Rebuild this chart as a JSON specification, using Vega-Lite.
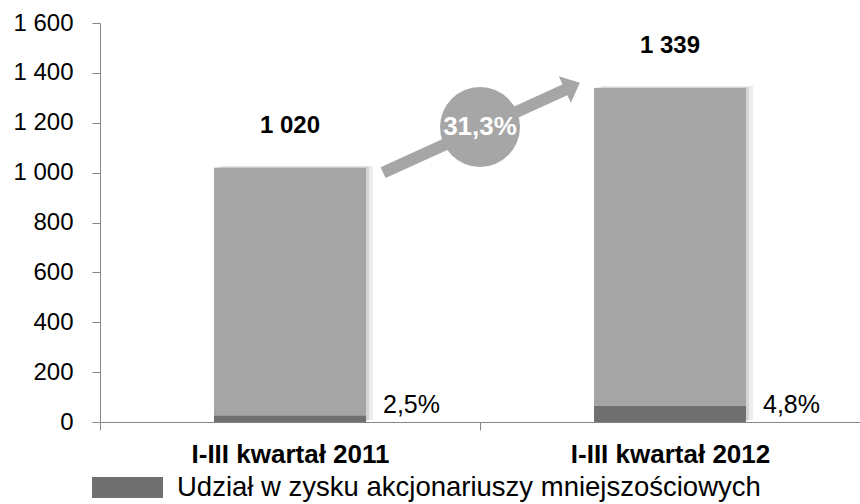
{
  "$schema": "https://vega.github.io/schema/vega-lite/v6.json",
  "width": 760,
  "height": 399,
  "autosize": {"type": "none"},
  "padding": {"left": 100, "top": 23, "right": 0, "bottom": 82},
  "background": "white",
  "config": {
    "locale": {"number": {"decimal": ",", "thousands": " ", "grouping": [3], "currency": ["", ""]}},
    "font": "Liberation Sans",
    "view": {"stroke": null},
    "axis": {"grid": false, "domainColor": "#868686", "tickColor": "#868686", "labelColor": "black", "labelFont": "Liberation Sans"},
    "axisY": {"tickSize": 8, "labelFontSize": 24, "labelPadding": 19, "values": [0, 200, 400, 600, 800, 1000, 1200, 1400, 1600], "format": ",d"},
    "axisX": {"tickSize": 8, "labelFontSize": 26, "labelFontWeight": "bold", "labelPadding": 11, "labelAngle": 0, "tickBand": "extent", "labelLimit": 400}
  },
  "datasets": {
    "bars": [
      {"okres": "I-III kwartał 2011", "razem": 1020, "mniejszosciowe": 25.5, "udzial": 0.025, "seria": "Udział w zysku akcjonariuszy mniejszościowych"},
      {"okres": "I-III kwartał 2012", "razem": 1339, "mniejszosciowe": 64.3, "udzial": 0.048, "seria": "Udział w zysku akcjonariuszy mniejszościowych"}
    ],
    "arrow": [{"x": 0.745, "y": 1000, "x2": 1.232, "y2": 1338}],
    "head": [{"x": 1.243, "y": 1347}],
    "growth": [{"x": 1.0, "y": 1183, "wzrost": 0.313}]
  },
  "layer": [
    {
      "data": {"name": "bars"},
      "encoding": {
        "x": {"field": "okres", "type": "nominal", "title": null, "scale": {"paddingInner": 0, "paddingOuter": 0}}
      },
      "layer": [
        {
          "mark": {"type": "bar", "color": "black", "opacity": 0.07, "width": {"band": 0.4}, "xOffset": 7, "yOffset": -2},
          "encoding": {"y": {"field": "razem", "type": "quantitative", "title": null, "scale": {"domain": [0, 1600]}}}
        },
        {
          "mark": {"type": "bar", "color": "black", "opacity": 0.1, "width": {"band": 0.4}, "xOffset": 3, "yOffset": -1},
          "encoding": {"y": {"field": "razem", "type": "quantitative", "title": null}}
        },
        {
          "mark": {"type": "bar", "color": "#a5a5a5", "width": {"band": 0.4}},
          "encoding": {"y": {"field": "razem", "type": "quantitative", "title": null}}
        },
        {
          "mark": {"type": "bar", "width": {"band": 0.4}},
          "encoding": {
            "y": {"field": "mniejszosciowe", "type": "quantitative", "title": null},
            "color": {
              "field": "seria", "type": "nominal",
              "scale": {"range": ["#707070"]},
              "legend": {"orient": "none", "legendX": -8, "legendY": 429, "title": null, "padding": 0,
                "symbolType": "M-1,-0.296H1V0.296H-1Z", "symbolSize": 5041, "symbolStrokeWidth": 0,
                "labelFontSize": 27.5, "labelColor": "black", "labelOffset": 14, "labelLimit": 800}
            }
          }
        },
        {
          "mark": {"type": "text", "fontWeight": "bold", "fontSize": 24, "dy": -42, "baseline": "middle", "color": "black"},
          "encoding": {
            "y": {"field": "razem", "type": "quantitative", "title": null},
            "text": {"field": "razem", "type": "quantitative", "format": ",d"}
          }
        },
        {
          "mark": {"type": "text", "fontSize": 25, "align": "left", "dx": 93, "dy": -17, "baseline": "middle", "color": "black"},
          "encoding": {
            "y": {"datum": 0, "type": "quantitative", "title": null},
            "text": {"field": "udzial", "type": "quantitative", "format": ".1%"}
          }
        }
      ]
    },
    {
      "layer": [
        {
          "data": {"name": "arrow"},
          "mark": {"type": "rule", "color": "#a6a6a6", "strokeWidth": 12},
          "encoding": {
            "x": {"field": "x", "type": "quantitative", "scale": {"domain": [0, 2]}, "axis": null},
            "y": {"field": "y", "type": "quantitative", "title": null},
            "x2": {"field": "x2"},
            "y2": {"field": "y2"}
          }
        },
        {
          "data": {"name": "head"},
          "mark": {"type": "point", "shape": "M0.57,0L-0.57,-1L-0.57,1Z", "size": 841, "angle": -24.5, "filled": true, "color": "#a6a6a6", "opacity": 1},
          "encoding": {
            "x": {"field": "x", "type": "quantitative", "scale": {"domain": [0, 2]}, "axis": null},
            "y": {"field": "y", "type": "quantitative", "title": null}
          }
        },
        {
          "data": {"name": "growth"},
          "mark": {"type": "point", "shape": "circle", "size": 6400, "filled": true, "color": "#a6a6a6", "opacity": 1},
          "encoding": {
            "x": {"field": "x", "type": "quantitative", "scale": {"domain": [0, 2]}, "axis": null},
            "y": {"field": "y", "type": "quantitative", "title": null}
          }
        },
        {
          "data": {"name": "growth"},
          "mark": {"type": "text", "color": "white", "fontWeight": "bold", "fontSize": 26, "baseline": "middle"},
          "encoding": {
            "x": {"field": "x", "type": "quantitative", "scale": {"domain": [0, 2]}, "axis": null},
            "y": {"field": "y", "type": "quantitative", "title": null},
            "text": {"field": "wzrost", "type": "quantitative", "format": ".1%"}
          }
        }
      ]
    }
  ],
  "resolve": {"scale": {"x": "independent"}}
}
